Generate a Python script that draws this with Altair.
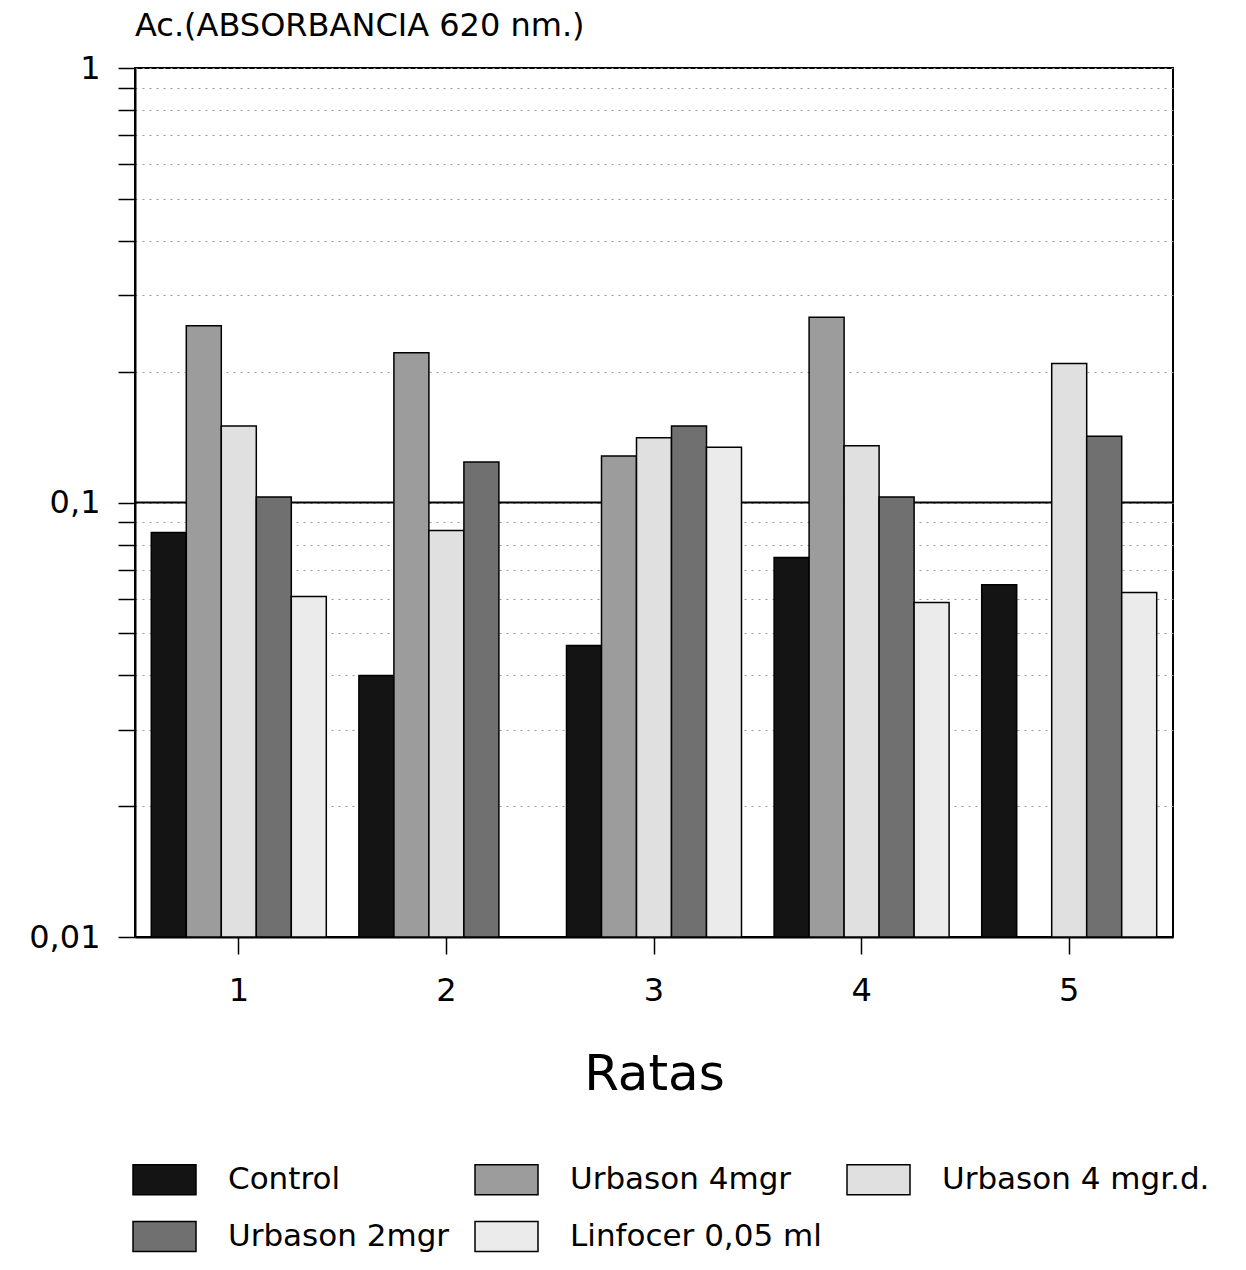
import altair as alt
import pandas as pd

ratas = ["1", "2", "3", "4", "5"]
series = ["Control", "Urbason 4mgr", "Urbason 4 mgr.d.", "Urbason 2mgr", "Linfocer 0,05 ml"]

control = [0.0853, 0.0400, 0.0469, 0.0747, 0.0647]
urbason_4 = [0.255, 0.221, 0.128, 0.267, None]
urbason_4d = [0.150, 0.0862, 0.141, 0.135, 0.209]
urbason_2 = [0.103, 0.124, 0.150, 0.103, 0.142]
linfocer = [0.0608, None, 0.134, 0.0589, 0.0621]

fills = ["#141414", "#9c9c9c", "#e0e0e0", "#707070", "#ebebeb"]
y_ticks = [0.01, 0.02, 0.03, 0.04, 0.05, 0.06, 0.07, 0.08, 0.09,
           0.1, 0.2, 0.3, 0.4, 0.5, 0.6, 0.7, 0.8, 0.9, 1]

rows = []
for s, vals in zip(series, [control, urbason_4, urbason_4d, urbason_2, linfocer]):
    for r, v in zip(ratas, vals):
        if v is not None:
            rows.append({"Rata": r, "Serie": s, "Valor": v, "Base": 0.01})
df = pd.DataFrame(rows)

FONT = "DejaVu Sans"

y_scale = alt.Scale(type="log", domain=[0.01, 1], nice=False)

rule = alt.Chart(pd.DataFrame({"y": [0.1]})).mark_rule(
    color="black", strokeWidth=2
).encode(y=alt.Y("y:Q", scale=y_scale))

bars = alt.Chart(df).mark_bar(stroke="black", strokeWidth=1.5).encode(
    x=alt.X(
        "Rata:N", sort=ratas,
        scale=alt.Scale(paddingInner=0.157, paddingOuter=0.0785),
        axis=alt.Axis(
            title="Ratas", labelAngle=0, labelFont=FONT, labelFontSize=32,
            labelColor="black", labelPadding=21, tickSize=17, tickColor="black",
            tickWidth=1.5, domainColor="black", domainWidth=2,
            titleFont=FONT, titleFontSize=50, titleFontWeight="normal",
            titleColor="black", titlePadding=43,
        ),
    ),
    xOffset=alt.XOffset("Serie:N", sort=series,
                        scale=alt.Scale(domain=series, paddingInner=0, paddingOuter=0)),
    y=alt.Y(
        "Valor:Q", scale=y_scale,
        axis=alt.Axis(
            title=None, values=y_ticks,
            labelExpr="datum.value == 1 ? '1' : (datum.value == 0.1 ? '0,1' : (datum.value == 0.01 ? '0,01' : ''))",
            labelFont=FONT, labelFontSize=32, labelColor="black", labelPadding=18,
            tickSize=17, tickColor="black", tickWidth=1.5,
            domainColor="black", domainWidth=2,
            grid=True, gridColor="#9a9a9a", gridDash=[2, 5], gridWidth=1,
        ),
    ),
    y2="Base:Q",
    fill=alt.Fill(
        "Serie:N", sort=series,
        scale=alt.Scale(domain=series, range=fills),
        legend=alt.Legend(
            title=None, orient="none", legendX=-3, legendY=1079,
            direction="horizontal", columns=3, gridAlign="each",
            columnPadding=22, rowPadding=6,
            symbolType="M-1,-0.476H1V0.476H-1Z", symbolSize=3969,
            symbolStrokeColor="black", symbolStrokeWidth=1.5, symbolOpacity=1,
            labelFont=FONT, labelFontSize=31, labelColor="black",
            labelOffset=31, labelLimit=0, padding=0,
        ),
    ),
)

chart = alt.layer(rule, bars).properties(
    width=1038,
    height=869,
    title=alt.TitleParams(
        "Ac.(ABSORBANCIA 620 nm.)", anchor="start", frame="group",
        font=FONT, fontSize=32, fontWeight="normal", color="black", offset=9,
    ),
    autosize=alt.AutoSizeParams(type="none"),
    padding={"left": 135, "top": 68, "right": 73, "bottom": 333},
    background="white",
).configure_view(stroke="black", strokeWidth=2)

chart.save("out.html", embed_options={"renderer": "svg", "actions": False})
